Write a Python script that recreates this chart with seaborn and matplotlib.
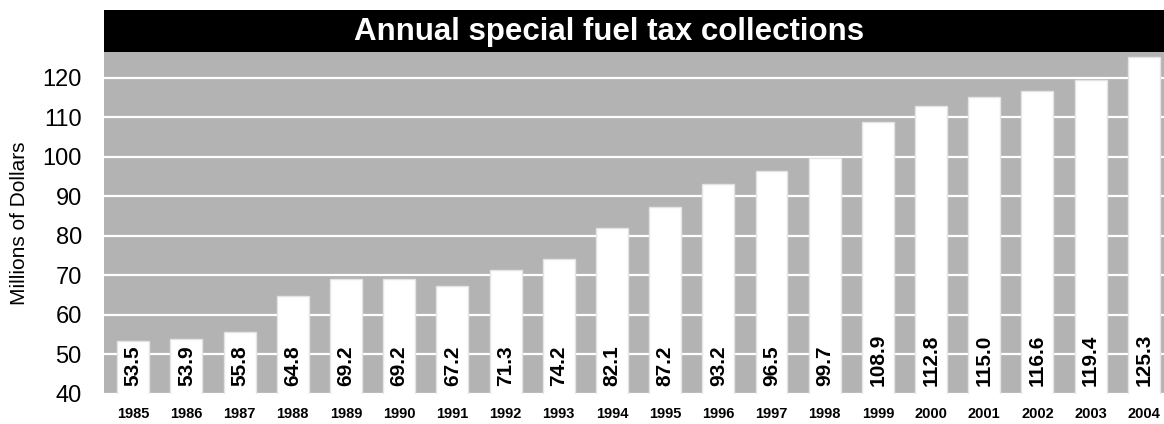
"""Annual special fuel tax collections, 1985-2004, as a seaborn bar chart."""

import matplotlib

matplotlib.use("Agg")
import matplotlib.pyplot as plt
import pandas as pd
import seaborn as sns

# Chart data (millions of dollars)
years = [
    "1985", "1986", "1987", "1988", "1989", "1990", "1991", "1992", "1993", "1994",
    "1995", "1996", "1997", "1998", "1999", "2000", "2001", "2002", "2003", "2004",
]
collections = [
    53.5, 53.9, 55.8, 64.8, 69.2, 69.2, 67.2, 71.3, 74.2, 82.1,
    87.2, 93.2, 96.5, 99.7, 108.9, 112.8, 115.0, 116.6, 119.4, 125.3,
]
y_ticks = [40, 50, 60, 70, 80, 90, 100, 110, 120]

TITLE = "Annual special fuel tax collections"
Y_LABEL = "Millions of Dollars"


def main():
    df = pd.DataFrame({"Year": years, "Collections": collections})

    sns.set_theme(
        style="darkgrid",
        rc={
            "axes.facecolor": "#b3b3b3",
            "grid.color": "white",
            "grid.linewidth": 1.6,
            "xtick.major.size": 0,
            "ytick.major.size": 0,
            "text.color": "black",
            "axes.labelcolor": "black",
            "xtick.color": "black",
            "ytick.color": "black",
        },
    )
    plt.rcParams["font.family"] = ["Liberation Sans", "DejaVu Sans"]

    fig = plt.figure(figsize=(11.64, 4.24), dpi=100)
    ax = fig.add_axes([104 / 1164, 30 / 424, 1 - 104 / 1164, 342 / 424])

    sns.barplot(
        data=df,
        x="Year",
        y="Collections",
        color="white",
        saturation=1,
        width=0.6,
        edgecolor="#e4e4e4",
        linewidth=1,
        ax=ax,
    )

    # Value labels, rotated, sitting at the bottom of each bar
    for i, value in enumerate(collections):
        ax.annotate(
            f"{value:.1f}",
            xy=(i, 40),
            xytext=(0, 6),
            textcoords="offset points",
            rotation=90,
            ha="center",
            va="bottom",
            fontsize=15,
            fontweight="bold",
            color="black",
        )

    ax.set_ylim(40, 126.5)
    ax.set_xlim(-0.55, len(years) - 0.62)
    ax.set_yticks(y_ticks)
    ax.tick_params(axis="y", labelsize=17, pad=16)
    ax.tick_params(axis="x", labelsize=10.5, pad=9)
    for label in ax.get_xticklabels():
        label.set_fontweight("bold")
    ax.grid(axis="x", visible=False)
    ax.set_axisbelow(True)
    ax.set_xlabel("")
    ax.set_ylabel(Y_LABEL, fontsize=15, labelpad=10)
    for spine in ax.spines.values():
        spine.set_visible(False)

    # Black title banner above the plot area
    banner = fig.add_axes([104 / 1164, 372 / 424, 1 - 104 / 1164, 42 / 424])
    banner.set_facecolor("black")
    banner.set_xticks([])
    banner.set_yticks([])
    banner.grid(False)
    for spine in banner.spines.values():
        spine.set_visible(False)
    fig.text(
        609 / 1164,
        392 / 424,
        TITLE,
        ha="center",
        va="center",
        color="white",
        fontsize=22.5,
        fontweight="bold",
    )

    fig.savefig("out.png", dpi=100)
    plt.close(fig)


if __name__ == "__main__":
    main()
